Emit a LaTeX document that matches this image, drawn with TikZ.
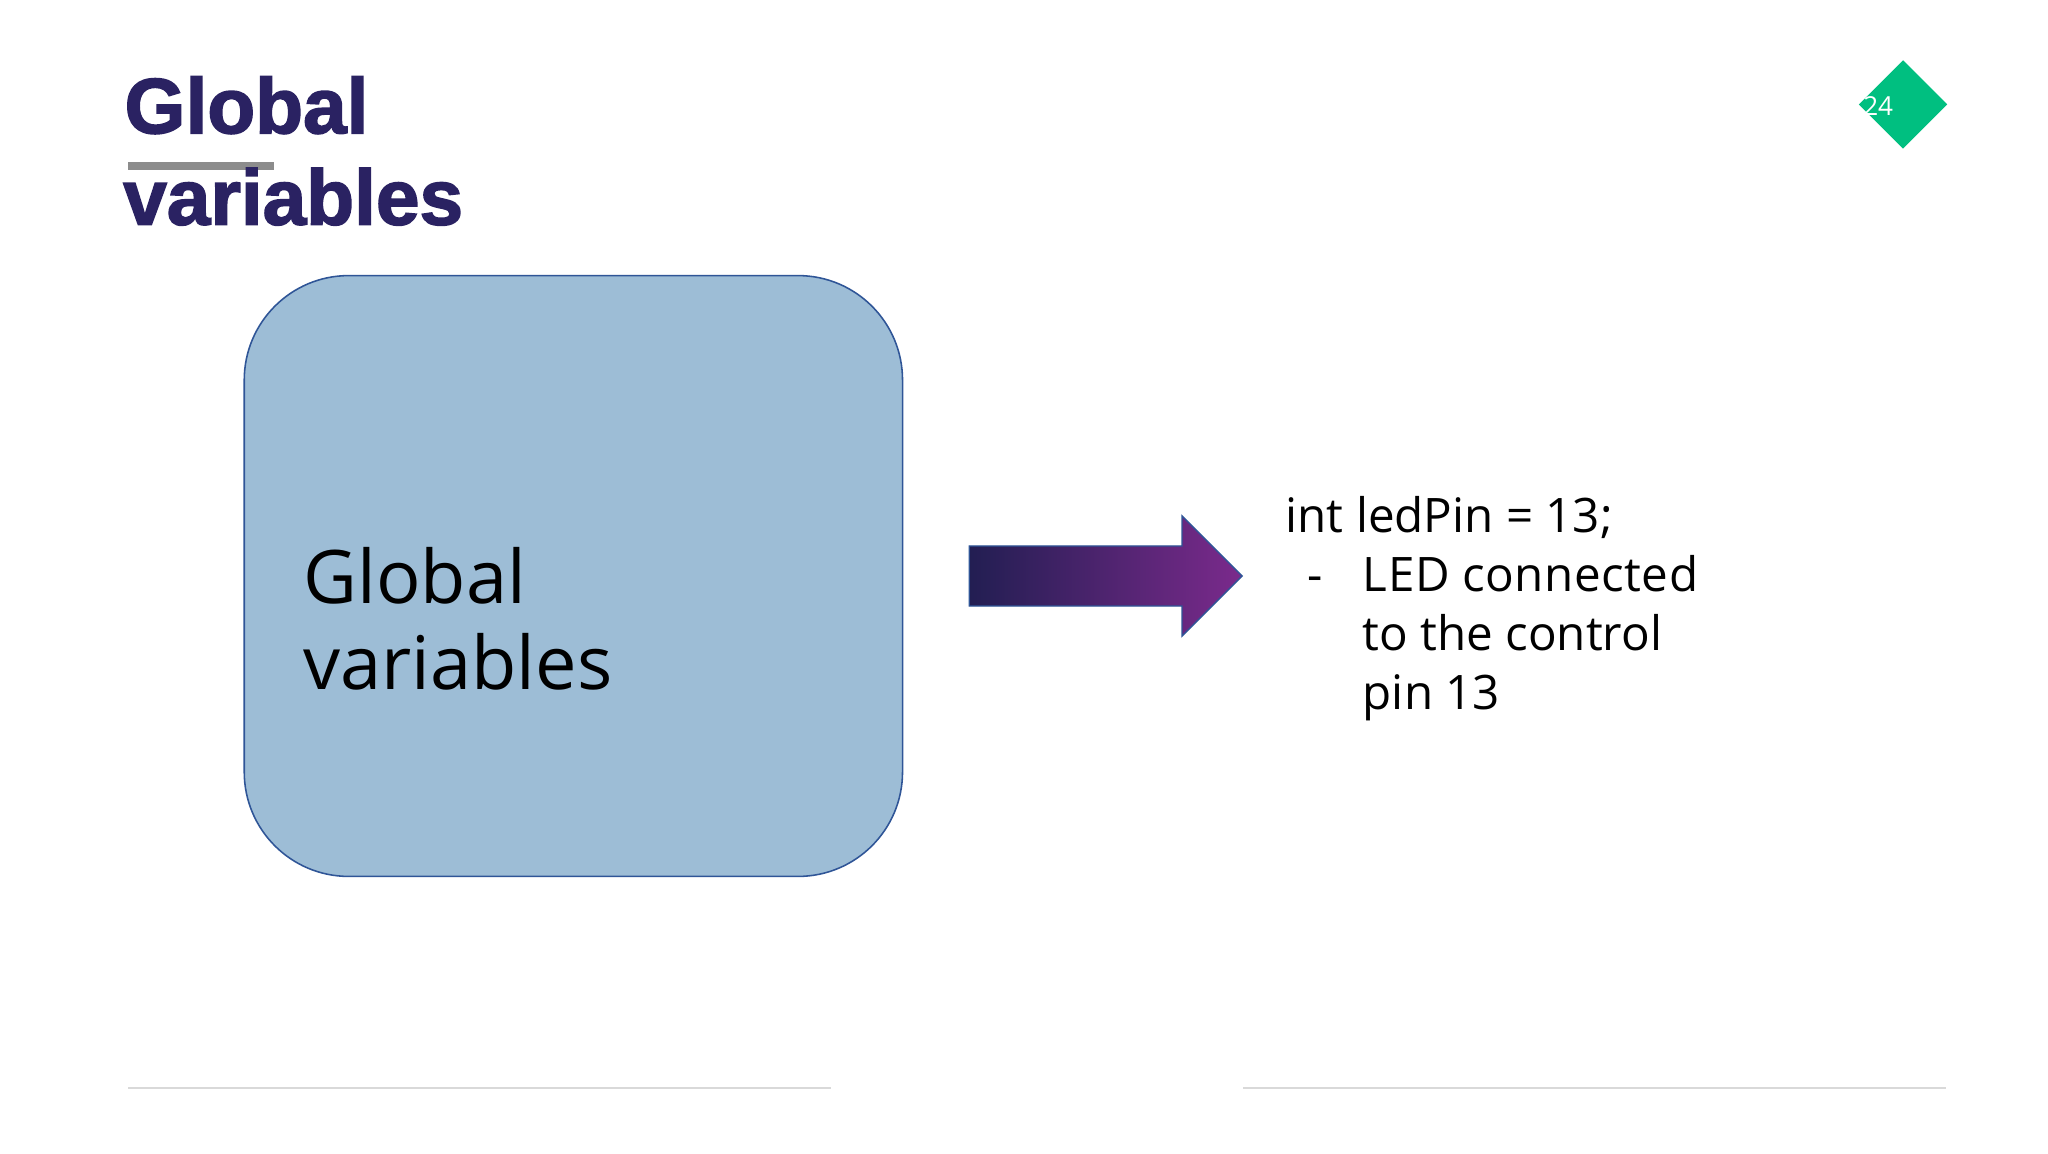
\documentclass[tikz,border=0pt]{standalone}
\usepackage{fontspec}
\setmainfont{Open Sans}
\newfontfamily\titlefont[BoldFeatures={FakeBold=2}]{Liberation Sans}
\usetikzlibrary{shapes.geometric}
\definecolor{navy}{HTML}{2A2262}
\definecolor{boxfill}{HTML}{9DBDD6}
\definecolor{boxline}{HTML}{2F5597}
\definecolor{gem}{HTML}{00BF80}
\definecolor{arrL}{HTML}{221E52}
\definecolor{arrR}{HTML}{7B2A8C}
\begin{document}
\begin{tikzpicture}[x=0.5pt,y=-0.5pt,
  title/.style={anchor=base west,inner sep=0,font=\titlefont\fontsize{30}{30}\selectfont\bfseries,text=navy},
  body/.style={anchor=base west,inner sep=0,font=\fontsize{18.2}{18.2}\selectfont},
  big/.style={anchor=base west,inner sep=0,font=\fontsize{28.3}{28.3}\selectfont}]
\useasboundingbox (0,0) rectangle (1568,883);
\fill[white] (0,0) rectangle (1568,883);
% title
\fill[gray!90] (98,124) rectangle (210,130);
\node[title] (t1) at (95,102) {Global};
\node[title] (t2) at (94,172) {variables};
% page badge
\node[diamond,fill=gem,inner sep=0,minimum width=34pt,minimum height=34pt] (badge) at (1457,80) {};
\node[anchor=center,text=white,font=\fontsize{10}{10}\selectfont] (num) at (1438,81) {24};
% box
\draw[boxline,fill=boxfill,line width=0.6pt,rounded corners=40pt] (187,211) rectangle (691,671);
\node[big] (g1) at (232,462) {Global};
\node[big] (g2) at (232,528) {variables};
% arrow
\shade[left color=arrL,right color=arrR,draw=boxline,line width=0.5pt]
  (742,418) -- (905,418) -- (905,395) -- (951,441) -- (905,487) -- (905,464) -- (742,464) -- cycle;
% right text
\node[body] (l0) at (984,408) {int ledPin = 13;};
\node[body] (d) at (1001,453) {-};
\node[body] (l1) at (1043,453) {L\kern0.3pt E\kern0.3pt D c\kern0.2pt o\kern0.2pt n\kern0.2pt n\kern0.2pt e\kern0.2pt c\kern0.2pt t\kern0.2pt e\kern0.2pt d};
\node[body] (l2) at (1043,498) {to the control};
\node[body] (l3) at (1043,543) {pin 13};
% footer lines
\draw[gray!30,line width=0.6pt] (98,833) -- (636,833);
\draw[gray!30,line width=0.6pt] (952,833) -- (1490,833);
\end{tikzpicture}
\end{document}
